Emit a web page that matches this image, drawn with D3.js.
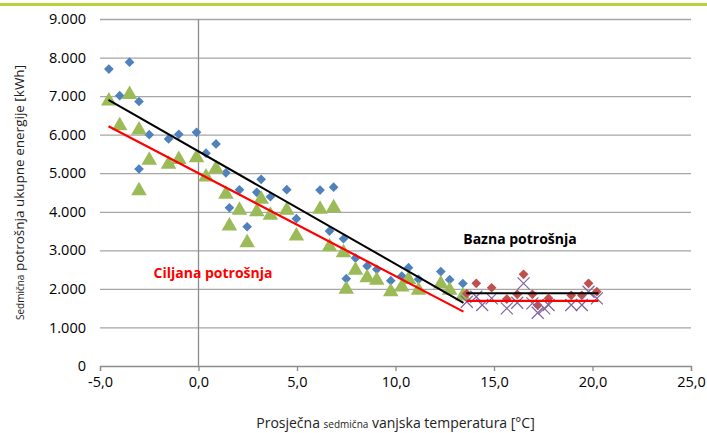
<!DOCTYPE html>
<html>
<head>
<meta charset="utf-8">
<script src="https://cdn.jsdelivr.net/npm/d3@7"></script>
<style>
  html, body { margin: 0; padding: 0; background: #fff; }
  svg { display: block; font-family: "Open Sans", "Noto Sans", sans-serif; }
</style>
</head>
<body>
<svg id="chart" width="707" height="433"></svg>
<script>
// ---- data ----
const heatTemp   = [-4.55, -4.0, -3.5, -3.02, -3.02, -2.5, -1.52, -1.0, -0.1, 0.38, 0.89, 1.39, 1.57, 2.08, 2.47, 2.96, 3.18, 3.65, 4.48, 4.97, 6.17, 6.86, 6.65, 7.36, 7.97, 7.5, 8.56, 9.05, 9.76, 10.32, 10.66, 11.17, 12.3, 12.75, 13.42];
const heatActual = [7700, 7010, 7880, 6860, 5110, 6000, 5890, 6010, 6060, 5520, 5760, 5010, 4105, 4570, 3612, 4504, 4841, 4390, 4572, 3820, 4564, 4638, 3500, 3301, 2800, 2264, 2593, 2507, 2212, 2334, 2549, 2248, 2450, 2240, 2140];
const heatTarget = [6900, 6260, 7070, 6150, 4570, 5360, 5260, 5380, 5430, 4930, 5140, 4480, 3656, 4063, 3223, 4027, 4349, 3933, 4063, 3397, 4089, 4131, 3119, 2964, 2507, 2014, 2316, 2248, 1953, 2074, 2270, 1989, 2150, 1990, 1841];

const baseTemp   = [13.62, 14.1, 14.4, 14.88, 15.65, 16.18, 16.5, 16.95, 17.22, 17.55, 17.77, 18.92, 19.46, 19.8, 20.22];
const baseActual = [1880, 2144, null, 2030, 1737, 1859, 2378, 1859, 1574, null, 1755, 1833, 1833, 2144, 1927];
const baseTarget = [1667, 1797, 1582, 1755, 1496, 1641, 2144, 1626, 1382, 1496, 1582, 1582, 1582, 1927, 1755];

const lineActualX = [-4.57, 13.45];
const lineActualY = [6900, 1640];
const lineTargetX = [-4.57, 13.45];
const lineTargetY = [6220, 1410];
const baseLineX = [13.6, 20.3];
const baseLineActualY = [1890, 1890];
const baseLineTargetY = [1690, 1690];

const xTicks = [-5, 0, 5, 10, 15, 20, 25];
const yTicks = [0, 1000, 2000, 3000, 4000, 5000, 6000, 7000, 8000, 9000];

// ---- layout ----
const svg = d3.select("#chart");
const W = 707, H = 433;
const m = { left: 100, right: 16, top: 19, bottom: 67 };
const iw = W - m.left - m.right, ih = H - m.top - m.bottom;

const loc = d3.formatLocale({ decimal: ",", thousands: ".", grouping: [3], currency: ["", ""], minus: "-" });
const fy = loc.format(",.0f");
const fx = loc.format(",.1f");

const x = d3.scaleLinear().domain([-5, 25]).range([m.left, m.left + iw]);
const y = d3.scaleLinear().domain([0, 9000]).range([m.top + ih, m.top]);

// top green rule
svg.append("rect").attr("x", 0).attr("y", 3).attr("width", W).attr("height", 3).attr("fill", "#b9d33a");

// gridlines
const grid = svg.append("g").attr("transform", `translate(${m.left},0)`)
  .call(d3.axisLeft(y).tickValues(yTicks.slice(1)).tickSize(-iw).tickFormat(""));
grid.select(".domain").remove();
grid.selectAll("line").attr("stroke", "#a6a6a6").attr("stroke-width", 1.3);

// y labels
const yl = svg.append("g").attr("transform", `translate(${m.left},0)`)
  .call(d3.axisLeft(y).tickValues(yTicks).tickSize(0).tickPadding(14).tickFormat(fy));
yl.select(".domain").remove();
yl.selectAll("text").attr("font-size", 14.5).attr("fill", "#000").attr("font-family", "Open Sans");

// x axis
const xa = svg.append("g").attr("transform", `translate(0,${y(0)})`)
  .call(d3.axisBottom(x).tickValues(xTicks).tickSize(5).tickPadding(6).tickFormat(fx));
xa.select(".domain").attr("stroke", "#8c8c8c").attr("stroke-width", 1.3);
xa.selectAll("line").attr("stroke", "#8c8c8c").attr("stroke-width", 1.3);
xa.selectAll("text").attr("font-size", 14.5).attr("fill", "#000").attr("font-family", "Open Sans");

// vertical y axis at x=0
svg.append("line").attr("x1", x(0)).attr("x2", x(0)).attr("y1", y(9000)).attr("y2", y(0))
  .attr("stroke", "#8c8c8c").attr("stroke-width", 1.3);

// axis titles
const xt = svg.append("text").attr("x", m.left + iw / 2).attr("y", 428).attr("text-anchor", "middle")
  .attr("font-size", 14).attr("fill", "#222");
xt.append("tspan").text("Prosječna ");
xt.append("tspan").attr("font-size", 10).text("sedmična");
xt.append("tspan").text(" vanjska temperatura [°C]");

const yt = svg.append("text").attr("transform", `translate(24,${m.top + ih / 2}) rotate(-90)`)
  .attr("text-anchor", "middle").attr("font-size", 13.5).attr("fill", "#222");
yt.append("tspan").attr("font-size", 10).text("Sedmična");
yt.append("tspan").text(" potrošnja ukupne energije [kWh]");

// markers
const blue = "#4F81BD", green = "#9BBB59", red = "#C0504D", purple = "#8064A2";
const diamond = d3.symbol().type(d3.symbolDiamond2).size(60);
const tri = d3.symbol().type(d3.symbolTriangle).size(105);

svg.append("g").selectAll("path").data(heatTemp.map((t, i) => [t, heatActual[i]]))
  .join("path").attr("d", diamond).attr("fill", blue)
  .attr("transform", d => `translate(${x(d[0])},${y(d[1])})`);

svg.append("g").selectAll("path").data(heatTemp.map((t, i) => [t, heatTarget[i]]))
  .join("path").attr("d", tri).attr("fill", green)
  .attr("transform", d => `translate(${x(d[0])},${y(d[1]) + 1})`);

svg.append("g").selectAll("path").data(baseTemp.map((t, i) => [t, baseActual[i]]).filter(d => d[1] != null))
  .join("path").attr("d", diamond).attr("fill", red)
  .attr("transform", d => `translate(${x(d[0])},${y(d[1])})`);

svg.append("g").selectAll("path").data(baseTemp.map((t, i) => [t, baseTarget[i]]))
  .join("path").attr("d", "M-6,-6L6,6M-6,6L6,-6").attr("stroke", purple).attr("stroke-width", 1.2).attr("fill", "none")
  .attr("transform", d => `translate(${x(d[0])},${y(d[1])})`);

// trend lines
const ln = d3.line().x(d => x(d[0])).y(d => y(d[1]));
svg.append("path").attr("d", ln(lineActualX.map((v, i) => [v, lineActualY[i]])))
  .attr("stroke", "#000").attr("stroke-width", 2).attr("fill", "none");
svg.append("path").attr("d", ln(lineTargetX.map((v, i) => [v, lineTargetY[i]])))
  .attr("stroke", "#ff0000").attr("stroke-width", 2.2).attr("fill", "none");
svg.append("path").attr("d", ln(baseLineX.map((v, i) => [v, baseLineActualY[i]])))
  .attr("stroke", "#000").attr("stroke-width", 2).attr("fill", "none");
svg.append("path").attr("d", ln(baseLineX.map((v, i) => [v, baseLineTargetY[i]])))
  .attr("stroke", "#ff0000").attr("stroke-width", 2.2).attr("fill", "none");

// annotations
svg.append("text").attr("x", 520).attr("y", 244).attr("text-anchor", "middle")
  .attr("font-size", 14).attr("font-weight", "bold").attr("fill", "#000").text("Bazna potrošnja");
svg.append("text").attr("x", 213).attr("y", 278).attr("text-anchor", "middle")
  .attr("font-size", 14).attr("font-weight", "bold").attr("fill", "#ff0000").text("Ciljana potrošnja");
</script>
</body>
</html>
